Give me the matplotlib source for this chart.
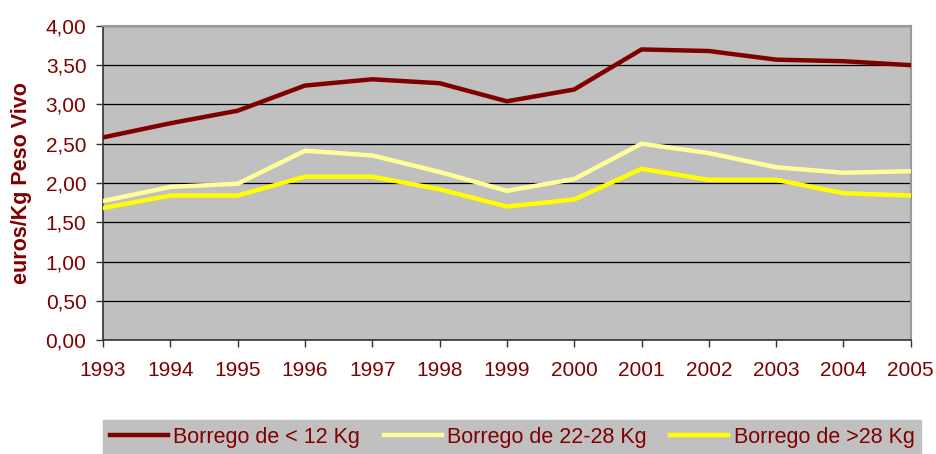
import numpy as np
import matplotlib.pyplot as plt
from matplotlib.ticker import FuncFormatter

years = [1993, 1994, 1995, 1996, 1997, 1998, 1999, 2000, 2001, 2002, 2003, 2004, 2005]
menos12 = [2.58, 2.76, 2.92, 3.24, 3.32, 3.27, 3.04, 3.19, 3.70, 3.68, 3.57, 3.55, 3.50]
de22_28 = [1.77, 1.95, 1.99, 2.41, 2.35, 2.14, 1.90, 2.05, 2.50, 2.38, 2.20, 2.13, 2.15]
mas28 = [1.68, 1.84, 1.84, 2.08, 2.08, 1.92, 1.70, 1.79, 2.18, 2.04, 2.04, 1.87, 1.84]
labels = ['Borrego de < 12 Kg', 'Borrego de 22-28 Kg', 'Borrego de >28 Kg']

red = '#800000'
plt.rcParams['font.family'] = ['Liberation Sans', 'DejaVu Sans']

fig = plt.figure(figsize=(9.37, 4.54), dpi=100)
ax = fig.add_axes([0.110, 0.251, 0.862, 0.692])
ax.set_facecolor('#C0C0C0')

ax.plot(years, menos12, color='#800000', lw=3.2, label=labels[0], zorder=3)
ax.plot(years, de22_28, color='#FFFF99', lw=3.2, label=labels[1], zorder=3)
ax.plot(years, mas28, color='#FFFF00', lw=3.2, label=labels[2], zorder=3)

ax.set_xlim(1993, 2005)
ax.set_ylim(0, 4)
ax.set_yticks(np.arange(0, 4.01, 0.5))
ax.set_xticks(years)
ax.yaxis.set_major_formatter(FuncFormatter(lambda v, p: ('%.2f' % v).replace('.', ',')))
ax.grid(axis='y', color='black', lw=0.9)
ax.set_axisbelow(True)

ax.tick_params(axis='both', colors='#333333', labelcolor=red, labelsize=15,
               direction='out', length=5, width=1)
ax.tick_params(axis='x', pad=10)
ax.tick_params(axis='y', pad=7)
for s in ['left', 'bottom']:
    ax.spines[s].set_color('#333333')
    ax.spines[s].set_linewidth(1.2)
for s in ['top', 'right']:
    ax.spines[s].set_color('#999999')
    ax.spines[s].set_linewidth(1.5)

ax.set_ylabel('euros/Kg Peso Vivo', color=red, fontsize=15.5, fontweight='bold', labelpad=10)

leg = fig.legend(loc='lower left', bbox_to_anchor=(0.110, 0.0, 0.873, 0.0727), mode='expand',
                 ncol=3, fontsize=15.5, frameon=True, fancybox=False, handlelength=2.7,
                 handletextpad=0.25, borderpad=0.3, columnspacing=1.0, borderaxespad=0)
leg.get_frame().set_facecolor('#C0C0C0')
leg.get_frame().set_edgecolor('#C0C0C0')
leg.get_frame().set_alpha(1)
for t in leg.get_texts():
    t.set_color(red)

fig.savefig('out.png', dpi=100)
